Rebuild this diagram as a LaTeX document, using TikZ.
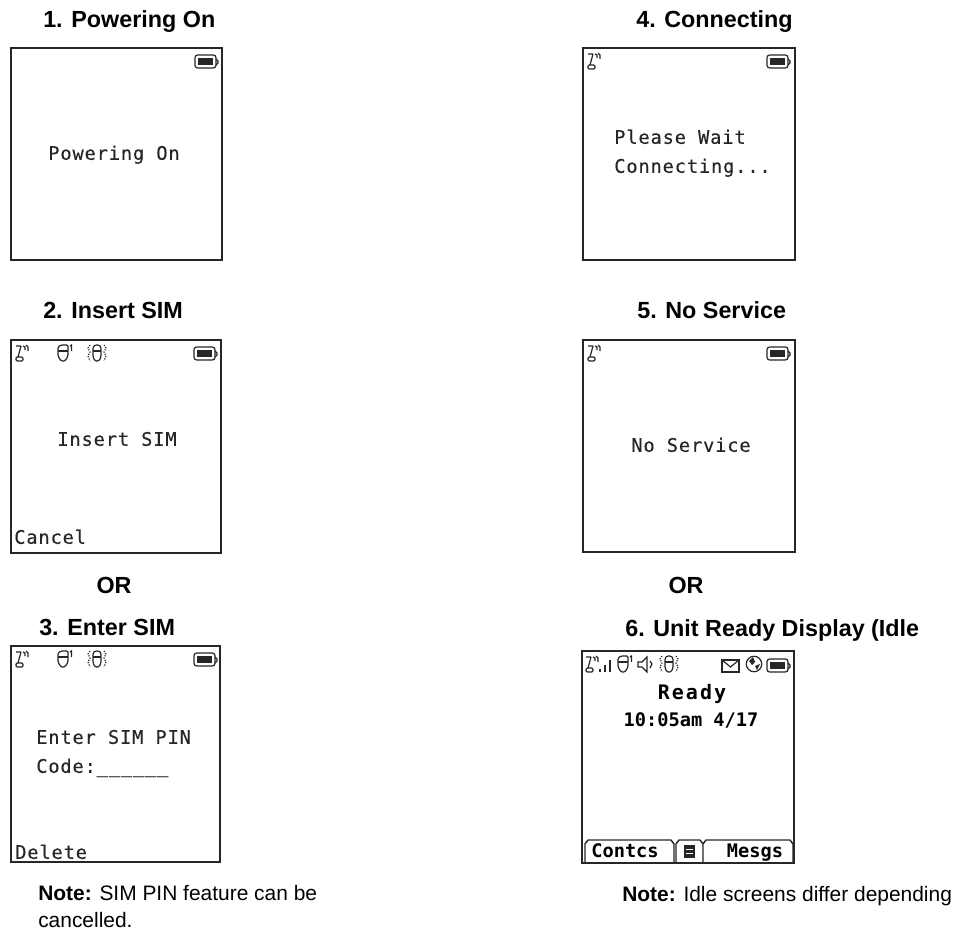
\documentclass[tikz,border=0pt]{standalone}
\usepackage{fontspec}
\setmainfont{Liberation Sans}
\newfontfamily\lcdfont[LetterSpace=4.6,FakeBold=0.35]{DejaVu Sans Mono}
\newfontfamily\lcdtight{DejaVu Sans Mono}
\newfontfamily\lcdwide[LetterSpace=10]{DejaVu Sans Mono}
\usepackage{xcolor}
\definecolor{lcdblack}{HTML}{262626}
\tikzset{
  battery/.pic = {
    \draw [icon, rounded corners=2pt] (0,0) rectangle (21,13);
    \fill [lcdblack] (3,3) rectangle (18,10);
    \draw [icon] (21,4) -- (23,6) -- (23,8) -- (21,10);
  },
  antenna/.pic = {
    \draw [icon] (1,1) -- (6,1) (6,1) -- (3,12);
    \draw [icon, rounded corners=1pt] (1,12) rectangle (8,16);
    \draw [icon] (8,1) -- (10,2) -- (10,5) (11,0) -- (13,2) -- (13,6);
  },
  handset/.pic = {
    \draw [icon, rounded corners=1pt] (0,2) -- (3,0) -- (10,0) -- (10,11) -- (7,16) -- (3,16) -- (0,11) -- cycle;
    \draw [icon] (0,6) -- (10,6);
    \draw [icon] (12,1) -- (13.5,0) -- (13.5,6);
  },
  shaker/.pic = {
    \draw [icon, rounded corners=1pt] (6,2) -- (8,0) -- (12,0) -- (14,2) -- (14,12) -- (12,16) -- (8,16) -- (6,12) -- cycle;
    \draw [icon] (6,6) -- (14,6);
    \draw [icon, densely dotted] (3,0) -- (1,3) -- (3,7) -- (1,11) -- (3,16);
    \draw [icon, densely dotted] (17,0) -- (19,3) -- (17,7) -- (19,11) -- (17,16);
  },
  speaker/.pic = {
    \draw [icon] (0,5) -- (4,5) -- (9,0) -- (9,15) -- (4,10) -- (0,10) -- cycle;
    \draw [icon] (12,4) -- (14,7) -- (12,11);
  },
  bars/.pic = {
    \draw [icon] (0,13) -- (0,16) (5,9) -- (5,16) (10,4) -- (10,16);
  },
  envelope/.pic = {
    \draw [icon] (0,0) rectangle (17,12);
    \draw [icon] (0,0) -- (8.5,7) -- (17,0);
  },
  globe/.pic = {
    \draw [icon] (0,0) circle [radius=5.8pt];
    \fill [lcdblack] (-5,-3) -- (-1,-7) -- (1,-2) -- (-2,1) -- cycle (1,2) -- (6,0) -- (3,6) -- cycle;
  }
}
\begin{document}
\begin{tikzpicture} [
        x = 0.75pt, y = -0.75pt,
        icon/.style = { lcdblack, line width = 0.9pt },
        screen/.style = { draw = lcdblack, line width = 1.3pt, anchor = north west, inner sep = 0, outer sep = 0 },
        title/.style = { anchor = west, inner sep = 0, text height = 12.5pt, text depth = 0, font = \bfseries\fontsize{17.5}{20}\selectfont },
        note/.style = { anchor = west, inner sep = 0, text height = 11.3pt, text depth = 0, font = \fontsize{15.7}{18}\selectfont },
        lcd/.style = { inner sep = 0, text height = 10.2pt, text depth = 0, text = lcdblack, font = \lcdfont\fontsize{14}{18}\selectfont },
        lcdbold/.style = { inner sep = 0, text height = 10.2pt, text depth = 0, text = black, font = \lcdtight\bfseries\fontsize{14}{18}\selectfont },
        softkey/.style = { draw = lcdblack, line width = 1.1pt, line join = round }
        ]

        \useasboundingbox (0,0) rectangle (959,930);

        % left column
        \node [title] (titlePower) at (43,19) {1. Powering On};
        \node [screen, minimum width = 158pt, minimum height = 159pt] (screenPower) at (11,48) {};
        \pic at (195,55) {battery};
        \node [lcd] (textPower) at (114,153) {Powering On};

        \node [title] (titleInsert) at (43,310) {2. Insert SIM};
        \node [screen, minimum width = 157.5pt, minimum height = 159.5pt] (screenInsert) at (11,340) {};
        \pic at (15,345) {antenna};
        \pic at (58,345) {handset};
        \pic at (87,345) {shaker};
        \pic at (194,347) {battery};
        \node [lcd] (textInsert) at (117,439) {Insert SIM};
        \node [lcd, anchor = west] (softCancel) at (14,537) {Cancel};

        \node [title, anchor = center] (orLeft) at (114,585) {OR};

        \node [title] (titleEnter) at (39,627) {3. Enter SIM};
        \node [screen, minimum width = 157pt, minimum height = 162pt] (screenEnter) at (11,646) {};
        \pic at (15,651) {antenna};
        \pic at (58,651) {handset};
        \pic at (87,651) {shaker};
        \pic at (194,653) {battery};
        \node [lcd, anchor = west] (textEnter) at (36,737) {Enter SIM PIN};
        \node [lcd, anchor = west] (textCode) at (36,766) {Code:\_\_\_\_\_\_};
        \node [lcd, anchor = west] (softDelete) at (15,852) {Delete};

        \node [note] (noteLeft) at (38,893) {\textbf{Note:} SIM PIN feature can be};
        \node [note] (noteLeftB) at (38,920) {cancelled.};

        % right column
        \node [title] (titleConnect) at (636,19) {4. Connecting};
        \node [screen, minimum width = 159pt, minimum height = 159pt] (screenConnect) at (583,48) {};
        \pic at (587,53) {antenna};
        \pic at (767,55) {battery};
        \node [lcd, anchor = west] (textWait) at (614,137) {Please Wait};
        \node [lcd, anchor = west] (textConnect) at (614,166) {Connecting...};

        \node [title] (titleService) at (637,310) {5. No Service};
        \node [screen, minimum width = 159pt, minimum height = 159pt] (screenService) at (583,340) {};
        \pic at (587,345) {antenna};
        \pic at (767,347) {battery};
        \node [lcd] (textService) at (691,445) {No Service};

        \node [title, anchor = center] (orRight) at (686,585) {OR};

        \node [title] (titleIdle) at (625,628) {6. Unit Ready Display (Idle};
        \node [screen, minimum width = 159pt, minimum height = 159pt] (screenIdle) at (582,651) {};
        \pic at (585,656) {antenna};
        \pic at (600,656) {bars};
        \pic at (618,656) {handset};
        \pic at (638,657) {speaker};
        \pic at (659,656) {shaker};
        \pic at (722,660) {envelope};
        \pic at (754,664) {globe};
        \pic at (767,659) {battery};
        \node [lcdbold, font = \lcdwide\bfseries\fontsize{15}{18}\selectfont] (textReady) at (692,693) {Ready};
        \node [lcdbold] (textTime) at (691,720) {10:05am 4/17};

        \draw [softkey] (585,863) -- (585,844) -- (588,840) -- (671,840) -- (674,844) -- (674,863);
        \draw [softkey] (676,863) -- (676,844) -- (679,840) -- (700,840) -- (703,844) -- (703,863);
        \draw [softkey] (703,844) -- (706,840) -- (790,840) -- (793,844) -- (793,863);
        \node [lcdbold] (softContacts) at (625,851) {Contcs};
        \fill [lcdblack] (684,845) rectangle (695,858);
        \draw [white, line width = 0.6pt] (686,849) -- (693,849) (686,853) -- (693,853);
        \node [lcdbold] (softMessages) at (755,851) {Mesgs};

        \node [note] (noteRight) at (622,894) {\textbf{Note:} Idle screens differ depending};
\end{tikzpicture}
\end{document}
